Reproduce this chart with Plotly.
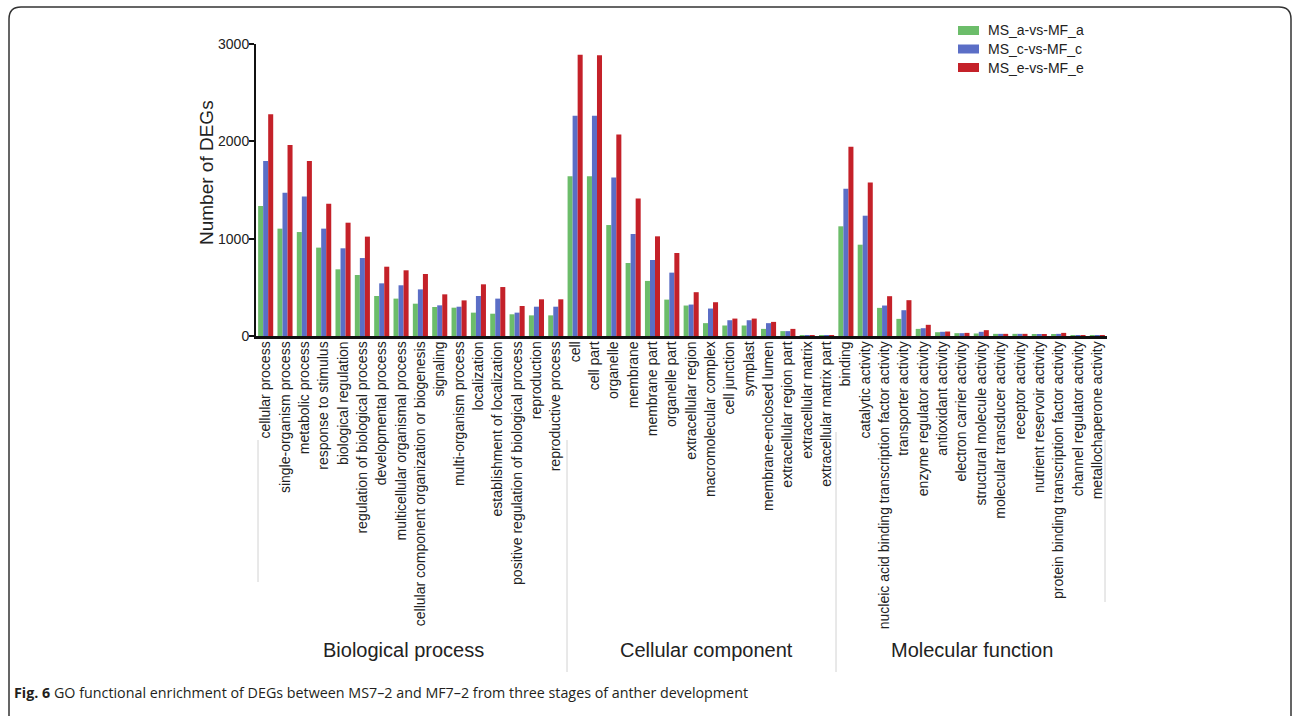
import plotly.graph_objects as go

# GO term categories, grouped by ontology
bp_terms = [
    "cellular process", "single-organism process", "metabolic process",
    "response to stimulus", "biological regulation",
    "regulation of biological process", "developmental process",
    "multicellular organismal process",
    "cellular component organization or biogenesis", "signaling",
    "multi-organism process", "localization",
    "establishment of localization",
    "positive regulation of biological process", "reproduction",
    "reproductive process",
]
cc_terms = [
    "cell", "cell part", "organelle", "membrane", "membrane part",
    "organelle part", "extracellular region", "macromolecular complex",
    "cell junction", "symplast", "membrane-enclosed lumen",
    "extracellular region part", "extracellular matrix",
    "extracellular matrix part",
]
mf_terms = [
    "binding", "catalytic activity",
    "nucleic acid binding transcription factor activity",
    "transporter activity", "enzyme regulator activity",
    "antioxidant activity", "electron carrier activity",
    "structural molecule activity", "molecular transducer activity",
    "receptor activity", "nutrient reservoir activity",
    "protein binding transcription factor activity",
    "channel regulator activity", "metallochaperone activity",
]
terms = bp_terms + cc_terms + mf_terms

# Number of DEGs per term for each comparison
ms_a_vs_mf_a = [
    1336, 1103, 1068, 908, 685, 627, 411, 384, 332, 298, 291, 240, 229, 223, 212, 212,
    1640, 1640, 1140, 750, 566, 374, 313, 132, 108, 108, 73, 50, 5, 5,
    1127, 938, 289, 176, 73, 39, 29, 26, 22, 22, 19, 15, 8, 5,
]
ms_c_vs_mf_c = [
    1798, 1473, 1432, 1103, 901, 801, 541, 521, 479, 315, 301, 411, 384, 240, 301, 301,
    2262, 2262, 1629, 1048, 781, 651, 323, 282, 162, 162, 132, 50, 5, 7,
    1513, 1236, 313, 265, 80, 43, 29, 43, 22, 22, 19, 22, 8, 5,
]
ms_e_vs_mf_e = [
    2277, 1962, 1798, 1360, 1164, 1021, 712, 675, 637, 428, 366, 531, 503, 308, 377, 377,
    2890, 2885, 2070, 1413, 1024, 853, 450, 347, 179, 179, 145, 73, 5, 7,
    1944, 1578, 409, 368, 115, 46, 32, 60, 22, 22, 19, 32, 8, 5,
]

series_names = ["MS_a-vs-MF_a", "MS_c-vs-MF_c", "MS_e-vs-MF_e"]
series_values = [ms_a_vs_mf_a, ms_c_vs_mf_c, ms_e_vs_mf_e]
series_colors = ["#6cbd6a", "#5b6ec6", "#c42129"]

group_names = ["Biological process", "Cellular component", "Molecular function"]

# Page geometry (pixels)
W, H = 1292, 716
L, R, T, B = 256, 185, 44, 380
PW, PH = W - L - R, H - T - B


def px(x):
    return (x - L) / PW


def py(y):
    return (H - B - y) / PH


FONT = "Liberation Sans, Arial, sans-serif"

fig = go.Figure()
for name, vals, col in zip(series_names, series_values, series_colors):
    fig.add_trace(go.Bar(x=terms, y=vals, name=name, showlegend=False,
                         marker=dict(color=col, line=dict(width=0))))

shapes = []
annotations = []

# rounded frame around the figure
x0, y0, x1, y1, r = 9, 7, 1291, 730, 12
frame = (
    f"M {px(x0)},{py(y1)} L {px(x0)},{py(y0 + r)} "
    f"Q {px(x0)},{py(y0)} {px(x0 + r)},{py(y0)} "
    f"L {px(x1 - r)},{py(y0)} Q {px(x1)},{py(y0)} {px(x1)},{py(y0 + r)} "
    f"L {px(x1)},{py(y1)}"
)
shapes.append(dict(type="path", xref="paper", yref="paper", path=frame,
                   line=dict(color="#333333", width=1.5)))

# light separators between the ontology groups
for sx, sy0, sy1 in [(258, 440, 582), (567, 440, 672), (836, 432, 672), (1105, 440, 602)]:
    shapes.append(dict(type="line", xref="paper", yref="paper",
                       x0=px(sx), x1=px(sx), y0=py(sy0), y1=py(sy1),
                       line=dict(color="#d2d2d2", width=1)))

# legend: wide colour swatches with series names
for i, (name, col) in enumerate(zip(series_names, series_colors)):
    cy = 30.5 + i * 18.5
    shapes.append(dict(type="rect", xref="paper", yref="paper",
                       x0=px(958), x1=px(979), y0=py(cy - 4.5), y1=py(cy + 4.5),
                       fillcolor=col, line=dict(width=0)))
    annotations.append(dict(text=name, xref="paper", yref="paper",
                            x=px(986), y=py(cy), xanchor="left", yanchor="middle",
                            showarrow=False,
                            font=dict(family=FONT, size=14, color="#222222")))

for gname, gx in zip(group_names, [403, 706, 972]):
    annotations.append(dict(text=gname, xref="paper", yref="paper", x=px(gx), y=py(650),
                            xanchor="center", yanchor="middle", showarrow=False,
                            font=dict(family=FONT, size=20, color="#222222")))

# y-axis title, placed a little above the plot-area centre
annotations.append(dict(text="Number of DEGs", xref="paper", yref="paper",
                        x=px(206), y=py(173), xanchor="center", yanchor="middle",
                        textangle=-90, showarrow=False,
                        font=dict(family=FONT, size=19, color="#222222")))

annotations.append(dict(
    text="<b>Fig. 6</b> GO functional enrichment of DEGs between MS7\u20132 and MF7\u20132 "
         "from three stages of anther development",
    xref="paper", yref="paper", x=px(12), y=py(692), xanchor="left", yanchor="middle",
    showarrow=False,
    font=dict(family="Open Sans, sans-serif", size=14.3, color="#231f20")))

fig.update_layout(
    width=W, height=H,
    margin=dict(l=L, r=R, t=T, b=B, pad=0),
    paper_bgcolor="white", plot_bgcolor="white",
    barmode="group", bargap=0.22, bargroupgap=0,
    font=dict(family=FONT, color="#222222"),
    shapes=shapes, annotations=annotations,
    showlegend=False,
    xaxis=dict(
        type="category", range=[-0.5, len(terms) - 0.5],
        showline=True, linecolor="#111111", linewidth=2.5,
        ticks="", tickangle=-90, showgrid=False, ticklabelstandoff=-3,
        tickfont=dict(family=FONT, size=14, color="#222222"),
    ),
    yaxis=dict(
        range=[0, 3000], tickvals=[0, 1000, 2000, 3000],
        showline=True, linecolor="#111111", linewidth=2,
        ticks="outside", ticklen=5, tickwidth=1.5, tickcolor="#111111",
        showgrid=False, zeroline=False, ticklabelstandoff=-3,
        tickfont=dict(family=FONT, size=14, color="#222222"),
    ),
)

fig.write_html("out.html")
